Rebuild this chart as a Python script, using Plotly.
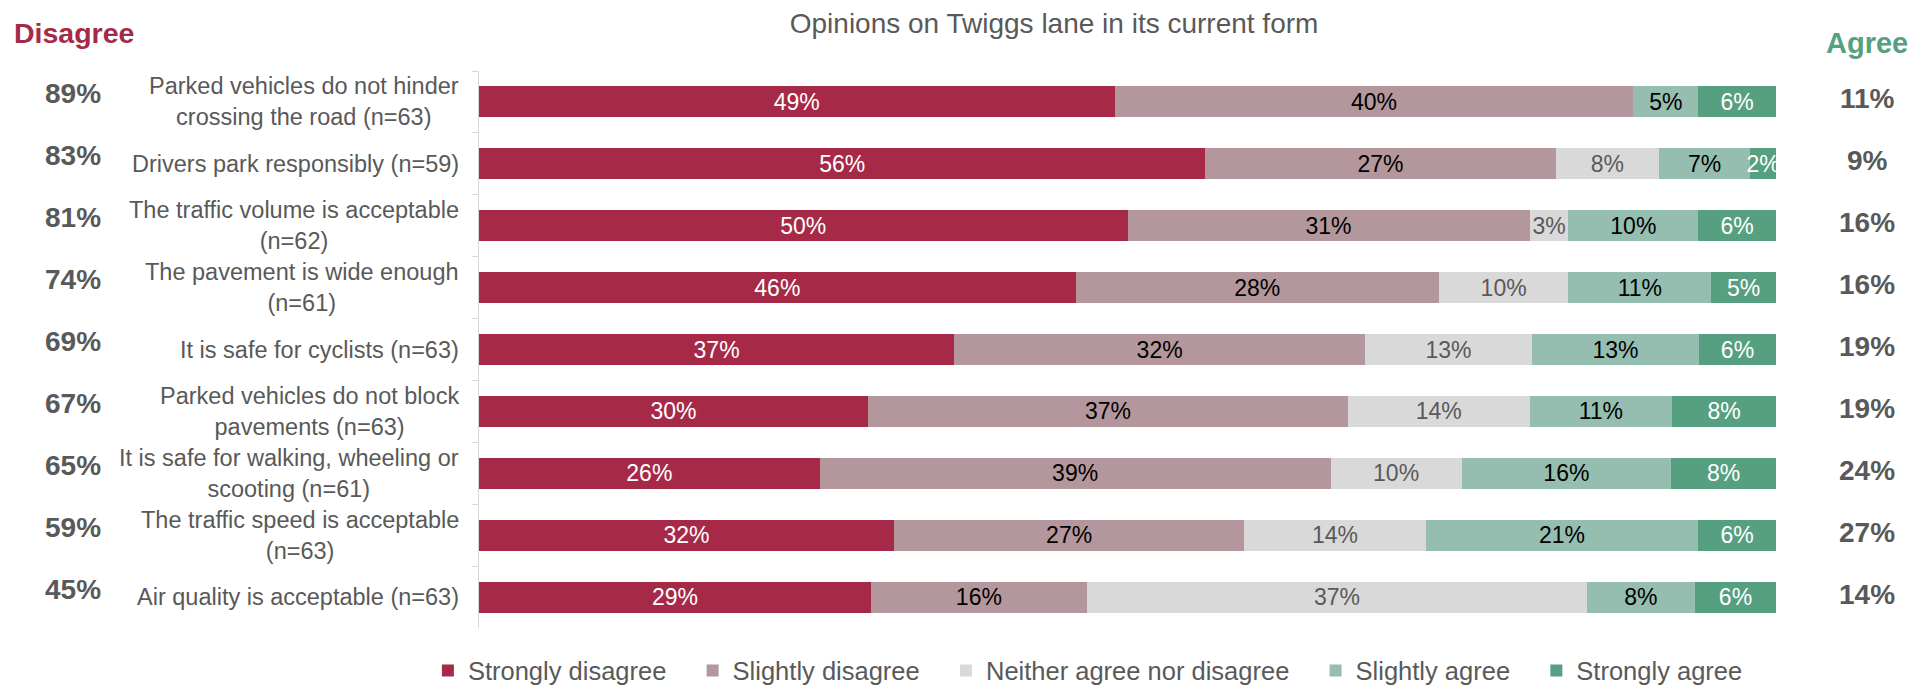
import plotly.graph_objects as go

categories = [
    "Parked vehicles do not hinder<br>crossing the road (n=63)",
    "Drivers park responsibly (n=59)",
    "The traffic volume is acceptable<br>(n=62)",
    "The pavement is wide enough<br>(n=61)",
    "It is safe for cyclists (n=63)",
    "Parked vehicles do not block<br>pavements (n=63)",
    "It is safe for walking, wheeling or<br>scooting (n=61)",
    "The traffic speed is acceptable<br>(n=63)",
    "Air quality is acceptable (n=63)",
]
strongly_disagree = [49, 56, 50, 46, 37, 30, 26, 32, 29]
slightly_disagree = [40, 27, 31, 28, 32, 37, 39, 27, 16]
neither = [0, 8, 3, 10, 13, 14, 10, 14, 37]
slightly_agree = [5, 7, 10, 11, 13, 11, 16, 21, 8]
strongly_agree = [6, 2, 6, 5, 6, 8, 8, 6, 6]
disagree_total = [89, 83, 81, 74, 69, 67, 65, 59, 45]
agree_total = [11, 9, 16, 16, 19, 19, 24, 27, 14]

NB = "\u00a0" * 3
series = [
    ("Strongly disagree" + NB, strongly_disagree, "#A62A48", "#FFFFFF"),
    ("Slightly disagree" + NB, slightly_disagree, "#B3979C", "#000000"),
    ("Neither agree nor disagree" + NB, neither, "#D9D9D9", "#595959"),
    ("Slightly agree" + NB, slightly_agree, "#95BDB0", "#000000"),
    ("Strongly agree", strongly_agree, "#56A081", "#FFFFFF"),
]

FONT = "Arial, Liberation Sans, sans-serif"
GREY = "#595959"

fig = go.Figure()
for name, vals, color, tcolor in series:
    fig.add_trace(go.Bar(
        name=name, y=categories, x=vals, orientation="h",
        marker=dict(color=color, line=dict(width=0)),
        text=[f"{v}%" if v > 0 else "" for v in vals],
        texttemplate="%{text}",
        textposition="inside", insidetextanchor="middle",
        textangle=0, constraintext="none",
        textfont=dict(color=tcolor, size=23, family=FONT),
        hoverinfo="skip",
    ))

annotations = []
for cat, d, a in zip(categories, disagree_total, agree_total):
    annotations.append(dict(x=0, xref="paper", y=cat, yref="y", text=cat,
                            xanchor="right", align="center", xshift=-18, showarrow=False,
                            font=dict(size=23.5, color=GREY, family=FONT)))
    annotations.append(dict(x=-0.3134, xref="paper", y=cat, yref="y", text=f"<b>{d}%</b>",
                            xanchor="center", yshift=8, showarrow=False,
                            font=dict(size=28, color=GREY, family=FONT)))
    annotations.append(dict(x=1.0702, xref="paper", y=cat, yref="y", text=f"<b>{a}%</b>",
                            xanchor="center", yshift=3, showarrow=False,
                            font=dict(size=28, color=GREY, family=FONT)))
annotations.append(dict(x=-0.3601, xref="paper", y=1.0676, yref="paper", text="<b>Disagree</b>",
                        xanchor="left", yanchor="middle", showarrow=False,
                        font=dict(size=28.5, color="#A62A48", family=FONT)))
annotations.append(dict(x=1.0702, xref="paper", y=1.05, yref="paper", text="<b>Agree</b>",
                        xanchor="center", yanchor="middle", showarrow=False,
                        font=dict(size=29, color="#56A081", family=FONT)))

fig.update_layout(
    width=1918, height=683,
    barmode="stack", barnorm="percent", bargap=0.5,
    paper_bgcolor="white", plot_bgcolor="white",
    margin=dict(l=471, r=150, t=63, b=63, autoexpand=False),
    title=dict(text="Opinions on Twiggs lane in its current form", x=0.5454, xref="container",
               xanchor="center", y=0.978, yref="container", yanchor="middle",
               font=dict(size=28, color=GREY, family=FONT)),
    font=dict(family=FONT, color=GREY),
    showlegend=True,
    legend=dict(orientation="h", xref="paper", x=-0.0394, xanchor="left",
                yref="paper", y=-0.077, yanchor="middle",
                font=dict(size=25.5, color=GREY, family=FONT), traceorder="normal"),
    annotations=annotations,
)
fig.update_xaxes(visible=False, range=[0, 100], fixedrange=True)
fig.update_yaxes(categoryorder="array", categoryarray=categories, autorange="reversed",
                 showticklabels=False, showline=True, linecolor="#D9D9D9", linewidth=1,
                 ticks="outside", tickson="boundaries", ticklen=6, tickcolor="#D9D9D9",
                 showgrid=False, zeroline=False)

fig.write_html("out.html")
